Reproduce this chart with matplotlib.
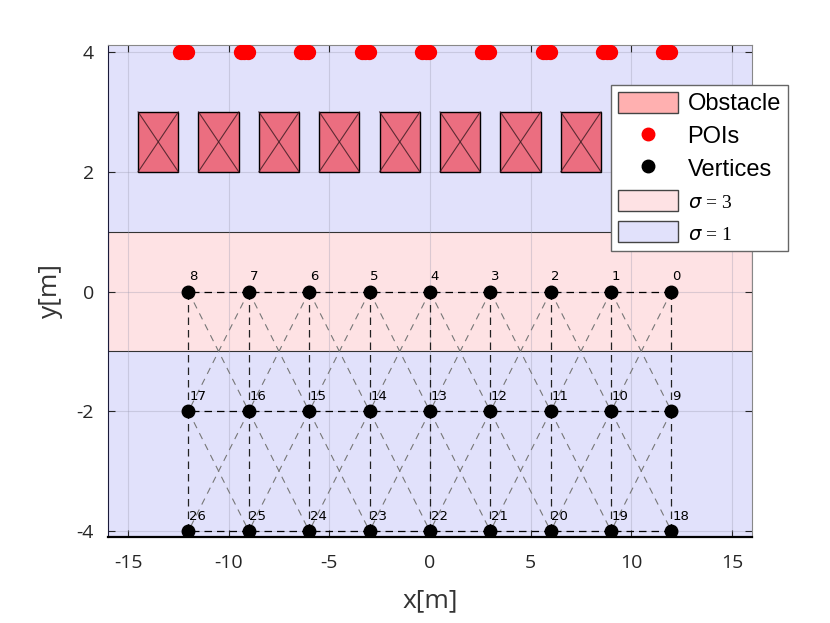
import matplotlib
matplotlib.use("Agg")
import matplotlib.pyplot as plt
from matplotlib.patches import Rectangle, Patch
from matplotlib.lines import Line2D

plt.rcParams["axes.unicode_minus"] = False

# vertex grid: columns (x) and rows (y); ids run right->left, top->bottom
vert_x = [12, 9, 6, 3, 0, -3, -6, -9, -12]
vert_y = [0, -2, -4]

# obstacles (lower-left corners, size)
obs_left = [-14.5, -11.5, -8.5, -5.5, -2.5, 0.5, 3.5, 6.5]
obs_bottom = 2.0
obs_w = 2.0
obs_h = 1.0

# points of interest (clustered groups along y = 4)
poi_x = [-12.4, -12.22, -12.05, -9.4, -9.22, -9.05, -6.4, -6.22, -6.05,
         -3.4, -3.22, -3.05, -0.4, -0.22, -0.05, 2.6, 2.78, 2.95,
         5.6, 5.78, 5.95, 8.6, 8.78, 8.95, 11.6, 11.78, 11.95]
poi_y = [4.0] * len(poi_x)

# noise regions (y ranges)
sigma3_band = (-1.0, 1.0)
sigma1_bands = [(1.0, 4.12), (-4.1, -1.0)]

xticks = [-15, -10, -5, 0, 5, 10, 15]
yticks = [-4, -2, 0, 2, 4]

C_BLUE = "#e1e1fb"
C_PINK = "#fee2e4"
C_OBS = "#eb6e80"
C_OBS_LEG = "#ffb0b0"

fig = plt.figure(figsize=(8.3, 6.23), dpi=100)
ax = fig.add_axes([0.130, 0.138, 0.776, 0.790])
ax.set_xlim(-16, 16)
ax.set_ylim(-4.1, 4.12)

for lo, hi in sigma1_bands:
    ax.axhspan(lo, hi, facecolor=C_BLUE, edgecolor="none", zorder=0.5)
ax.axhspan(*sigma3_band, facecolor=C_PINK, edgecolor="#333333", lw=0.8, zorder=0.6)

ax.grid(True, color="#9a9ab0", alpha=0.35, lw=0.8)

# obstacles
for x0 in obs_left:
    ax.add_patch(Rectangle((x0, obs_bottom), obs_w, obs_h, facecolor=C_OBS,
                           edgecolor="black", lw=1.0, zorder=3))
    ax.plot([x0, x0 + obs_w], [obs_bottom, obs_bottom + obs_h], color="#3a1a20",
            lw=0.8, alpha=0.8, zorder=3.5)
    ax.plot([x0, x0 + obs_w], [obs_bottom + obs_h, obs_bottom], color="#3a1a20",
            lw=0.8, alpha=0.8, zorder=3.5)

# graph edges
ncol = len(vert_x)
for r, y in enumerate(vert_y):
    for c in range(ncol - 1):
        ax.plot([vert_x[c], vert_x[c + 1]], [y, y], color="black", lw=0.9,
                ls=(0, (6, 4)), zorder=4)
    if r < len(vert_y) - 1:
        y2 = vert_y[r + 1]
        for c in range(ncol):
            ax.plot([vert_x[c], vert_x[c]], [y, y2], color="#222222", lw=0.9,
                    ls=(0, (6, 4)), zorder=4)
            for dc in (-1, 1):
                if 0 <= c + dc < ncol:
                    ax.plot([vert_x[c], vert_x[c + dc]], [y, y2], color="#777777",
                            lw=0.8, ls=(0, (6, 5)), zorder=3.8)

# vertices and labels
for r, y in enumerate(vert_y):
    for c, x in enumerate(vert_x):
        ax.plot(x, y, "o", color="black", ms=9, zorder=5)
        ax.annotate(str(r * ncol + c), (x, y), xytext=(0.5, 6),
                    textcoords="offset points", ha="left", va="bottom",
                    fontsize=9.5, zorder=6)

# POIs
ax.plot(poi_x, poi_y, "o", color="red", ms=10, zorder=5)

ax.set_xticks(xticks)
ax.set_yticks(yticks)
ax.tick_params(direction="in", top=True, right=True, length=5, labelsize=14,
               colors="#262626")
ax.tick_params(axis="x", pad=12)
ax.tick_params(axis="y", pad=10)
for lab in ax.get_xticklabels() + ax.get_yticklabels():
    lab.set_fontfamily("Open Sans")
for s in ("top", "right"):
    ax.spines[s].set_color("#888888")
ax.spines["left"].set_color("#1a1a3a")
ax.spines["bottom"].set_linewidth(1.6)
ax.set_xlabel("x[m]", fontsize=19, color="#333333", family="Open Sans", labelpad=12)
ax.set_ylabel("y[m]", fontsize=19, color="#333333", family="Open Sans", labelpad=10)

handles = [
    Patch(facecolor=C_OBS_LEG, edgecolor="#444444", lw=1.0),
    Line2D([], [], marker="o", color="red", ls="none", ms=9),
    Line2D([], [], marker="o", color="black", ls="none", ms=9),
    Patch(facecolor=C_PINK, edgecolor="#444444", lw=1.0),
    Patch(facecolor=C_BLUE, edgecolor="#444444", lw=1.0),
]
labels = ["Obstacle", "POIs", "Vertices", r"$\sigma$ = 3", r"$\sigma$ = 1"]
leg = fig.legend(handles, labels, loc="upper left", bbox_to_anchor=(0.736, 0.864),
                 prop={"family": "Liberation Sans", "size": 17},
                 fancybox=False, framealpha=1, edgecolor="#666666",
                 handlelength=2.55, handleheight=1.0, labelspacing=0.38,
                 borderpad=0.3, handletextpad=0.4, borderaxespad=0)
for t in leg.get_texts()[3:]:
    t.set_fontsize(14)
    t.set_fontfamily("Liberation Serif")
leg.set_zorder(10)

fig.savefig("out.png", dpi=100)
